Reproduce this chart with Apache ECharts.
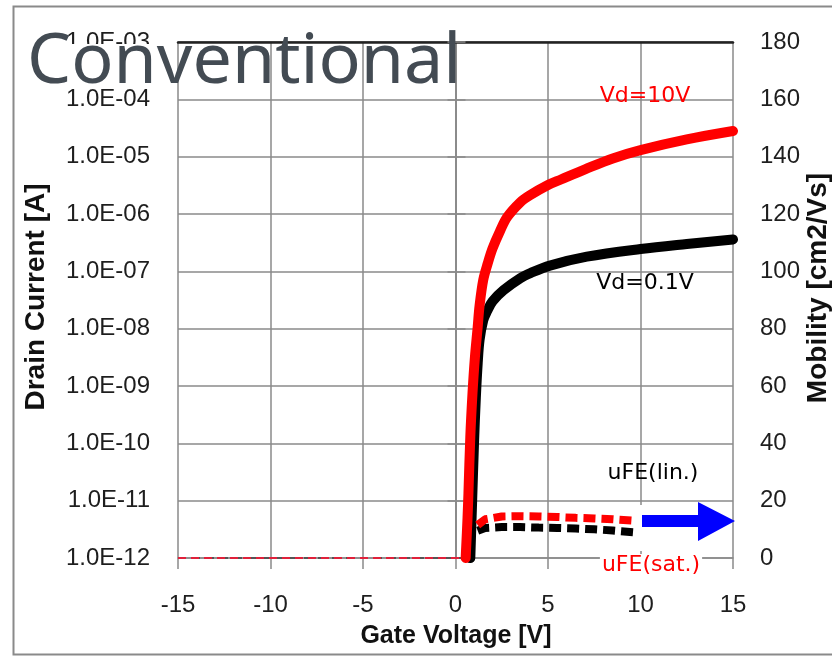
<!DOCTYPE html>
<html>
<head>
<meta charset="utf-8">
<script src="https://cdn.jsdelivr.net/npm/echarts@6/dist/echarts.min.js"></script>
<style>
  html, body { margin: 0; padding: 0; background: #fff; }
  #main { width: 832px; height: 657px; }
</style>
</head>
<body>
<div id="main"></div>
<script>
// drain current, Vd = 10V
const vgHigh = [0.55, 0.65, 0.7, 0.8, 0.92, 1.05, 1.2, 1.3, 1.5, 1.75, 2.0, 2.4, 2.8, 3.5, 4.0, 5.0, 5.7, 7.0, 8.5, 10, 12.5, 15]
const idHigh = [1e-12, 5e-12, 1.35e-11, 1.3e-10, 7.6e-10, 3.2e-9, 1.07e-8, 2.5e-8, 7.1e-8, 1.4e-7, 2.5e-7, 5.0e-7, 8.9e-7, 1.6e-6, 2.1e-6, 3.2e-6, 4.0e-6, 6.0e-6, 9.3e-6, 1.3e-5, 2.0e-5, 2.8e-5]
// drain current, Vd = 0.1V
const vgLow = [0.8, 0.9, 1.0, 1.1, 1.2, 1.3, 1.5, 1.7, 2.0, 2.6, 3.5, 4.05, 5.1, 7.1, 10, 12.5, 15]
const idLow = [1e-12, 1e-11, 1e-10, 6.3e-10, 2.5e-9, 6.3e-9, 1.4e-8, 2.0e-8, 3.0e-8, 4.7e-8, 7.6e-8, 9.3e-8, 1.26e-7, 1.8e-7, 2.45e-7, 3.0e-7, 3.6e-7]
// off state floor
const vgOff = [-15, 0.55]
const idOff = [1e-12, 1e-12]
// field effect mobility
const vgMob = [1.2, 1.6, 2.5, 3.5, 4.5, 5.5, 6.5, 7.5, 8.5, 9.6]
const muLin = [9.5, 10.5, 10.8, 10.8, 10.6, 10.5, 10.3, 10.0, 9.6, 9.0]
const muSat = [11.5, 13.5, 14.5, 14.6, 14.5, 14.3, 14.0, 13.8, 13.5, 13.0]

const xTicks = { min: -15, max: 15, interval: 5 }
const rightTicks = { min: 0, max: 180, interval: 20 }

const pairs = (xs, ys) => xs.map((x, i) => [x, ys[i]])

const gridColor = '#8a8a8a'
const labelFont = { fontFamily: 'Liberation Sans', fontSize: 24, color: '#1e1e1e' }

const chart = echarts.init(document.getElementById('main'))

const option = {
  backgroundColor: '#fff',
  animation: false,
  grid: { left: 178, right: 99, top: 42, bottom: 99, containLabel: false, outerBoundsMode: 'none' },
  xAxis: [
    {
      type: 'value',
      min: xTicks.min, max: xTicks.max, interval: xTicks.interval,
      axisLine: { show: true, onZero: false, lineStyle: { color: gridColor, width: 1.5 } },
      axisTick: { show: true, inside: false, length: 11, lineStyle: { color: gridColor, width: 1.5 } },
      axisLabel: { ...labelFont, margin: 35, showMinLabel: true, showMaxLabel: true },
      splitLine: { show: true, lineStyle: { color: gridColor, width: 1.5 } }
    },
    {
      type: 'value', position: 'top',
      min: xTicks.min, max: xTicks.max,
      axisLine: { show: true, onZero: false, lineStyle: { color: '#222', width: 2.5 } },
      axisTick: { show: false }, axisLabel: { show: false }, splitLine: { show: false }
    }
  ],
  yAxis: [
    {
      type: 'log', logBase: 10,
      min: 1e-12, max: 1e-3, splitNumber: 9, interval: 1,
      axisLine: { show: true, lineStyle: { color: gridColor, width: 1.5 } },
      axisTick: { show: true, length: 8, lineStyle: { color: gridColor, width: 1.5 } },
      axisLabel: {
        ...labelFont, margin: 28, showMinLabel: true, showMaxLabel: true,
        formatter: v => '1.0E-' + String(-Math.round(Math.log10(v))).padStart(2, '0')
      },
      minorTick: { show: false },
      splitLine: { show: true, lineStyle: { color: gridColor, width: 1.5 } }
    },
    {
      type: 'value', position: 'right',
      min: rightTicks.min, max: rightTicks.max, interval: rightTicks.interval,
      axisLine: { show: true, lineStyle: { color: gridColor, width: 1.5 } },
      axisTick: { show: true, length: 10, lineStyle: { color: gridColor, width: 1.5 } },
      axisLabel: { ...labelFont, margin: 27, showMinLabel: true, showMaxLabel: true },
      splitLine: { show: false }
    }
  ],
  series: [
    {
      name: 'off 0.1V', type: 'line', yAxisIndex: 0, showSymbol: false,
      data: pairs(vgOff, idOff),
      lineStyle: { color: '#555', width: 2, type: [8, 6] }
    },
    {
      name: 'off 10V', type: 'line', yAxisIndex: 0, showSymbol: false,
      data: pairs(vgOff, idOff),
      lineStyle: { color: '#e0203a', width: 2, type: [8, 5] }
    },
    {
      name: 'Vd=0.1V', type: 'line', yAxisIndex: 0, showSymbol: false,
      smooth: 0.35,
      data: pairs(vgLow, idLow),
      lineStyle: { color: '#000', width: 10, join: 'round', cap: 'round' }
    },
    {
      name: 'Vd=10V', type: 'line', yAxisIndex: 0, showSymbol: false,
      smooth: 0.35,
      data: pairs(vgHigh, idHigh),
      lineStyle: { color: '#ff0000', width: 10, join: 'round', cap: 'round' }
    },
    {
      name: 'uFE(lin.)', type: 'line', yAxisIndex: 1, showSymbol: false,
      data: pairs(vgMob, muLin),
      lineStyle: { color: '#000', width: 8, type: [12, 6] }
    },
    {
      name: 'uFE(sat.)', type: 'line', yAxisIndex: 1, showSymbol: false,
      data: pairs(vgMob, muSat),
      lineStyle: { color: '#ff0000', width: 8, type: [12, 6] }
    }
  ],
  graphic: [
    // outer frame
    { type: 'rect', shape: { x: 13.5, y: 6.5, width: 830, height: 648 }, style: { fill: null, stroke: '#8a8a8a', lineWidth: 2 }, z: 1 },
    // hides most of the top tick label behind the title
    { type: 'rect', shape: { x: 16, y: 44, width: 156, height: 43 }, style: { fill: '#fff' }, z: 100 },
    {
      type: 'text', x: 27, y: 63, z: 101,
      style: { text: 'Conventional', font: '70px "Noto Sans"', fill: '#434b53', align: 'left', verticalAlign: 'middle' }
    },
    // axis names
    {
      type: 'text', x: 36, y: 297, rotation: Math.PI / 2, z: 101,
      style: { text: 'Drain Current [A]', font: 'bold 28px "Liberation Sans"', fill: '#111', align: 'center', verticalAlign: 'middle' }
    },
    {
      type: 'text', x: 818, y: 288, rotation: Math.PI / 2, z: 101,
      style: { text: 'Mobility [cm2/Vs]', font: 'bold 28px "Liberation Sans"', fill: '#111', align: 'center', verticalAlign: 'middle' }
    },
    {
      type: 'text', x: 456, y: 636, z: 101,
      style: { text: 'Gate Voltage [V]', font: 'bold 25px "Liberation Sans"', fill: '#111', align: 'center', verticalAlign: 'middle' }
    },
    // curve annotations
    {
      type: 'text', x: 645, y: 96, z: 101,
      style: { text: 'Vd=10V', font: '22px "DejaVu Sans"', fill: '#ff0000', align: 'center', verticalAlign: 'middle' }
    },
    {
      type: 'text', x: 645, y: 283, z: 101,
      style: { text: 'Vd=0.1V', font: '22px "DejaVu Sans"', fill: '#000', align: 'center', verticalAlign: 'middle' }
    },
    {
      type: 'text', x: 653, y: 473, z: 101,
      style: { text: 'uFE(lin.)', font: '22px "DejaVu Sans"', fill: '#000', align: 'center', verticalAlign: 'middle' }
    },
    // white patch under the arrow
    { type: 'rect', shape: { x: 636, y: 505, width: 96, height: 46 }, style: { fill: '#fff' }, z: 100 },
    {
      type: 'text', x: 651, y: 565, z: 101,
      style: { text: 'uFE(sat.)', font: '22px "DejaVu Sans"', fill: '#ff0000', align: 'center', verticalAlign: 'middle', backgroundColor: '#fff', padding: [0, 2] }
    },
    {
      type: 'polygon', z: 102,
      shape: { points: [[642, 515], [698, 515], [698, 502], [735, 521], [698, 541], [698, 527], [642, 527]] },
      style: { fill: '#0000ff' }
    }
  ]
}

chart.setOption(option)
</script>
</body>
</html>
